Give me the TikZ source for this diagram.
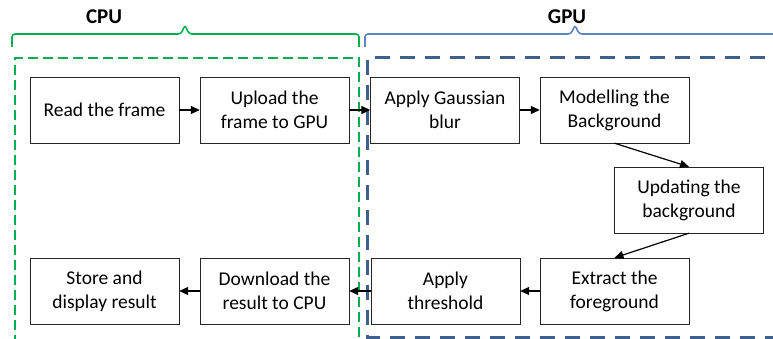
\documentclass[tikz,border=0pt]{standalone}
\usepackage{fontspec}
\setmainfont{Carlito}
\usetikzlibrary{arrows.meta}
\definecolor{cpugreen}{HTML}{00B050}
\definecolor{gpublue}{HTML}{5B86C0}
\definecolor{gpudark}{HTML}{3F5F8C}

\tikzset{
  stepbox/.style={draw=black!85, thin, fill=white, minimum width=149pt, minimum height=66pt,
    align=center, inner sep=2pt, font=\fontsize{19.5}{24}\selectfont},
  flow/.style={-{Triangle[length=9pt,width=8pt]}, line width=1.2pt},
  side/.style={font=\bfseries\fontsize{21}{24}\selectfont}
}

\begin{document}
\begin{tikzpicture}[x=1pt,y=-1pt]
          \useasboundingbox (0,0) rectangle (773,339);
          % braces over the two sides
          \draw[cpugreen, line width=1.6pt, rounded corners=3pt]
            (12,47) -- (12,34) -- (181,34) -- (185,25) -- (189,34) -- (359,34) -- (359,47);
          \draw[gpublue, line width=1.6pt, rounded corners=3pt]
            (365,47) -- (365,34) -- (571,34) -- (575,25) -- (579,34) -- (775,34);
          \node[side] (cpu) at (104,17) {CPU};
          \node[side] (gpu) at (567,17) {GPU};
          % dashed regions
          \draw[cpugreen, line width=2.4pt, dash pattern=on 10pt off 5pt]
            (15,345) -- (15,58) -- (359,58) -- (359,345);
          \draw[gpudark, line width=3pt, dash pattern=on 15pt off 10pt]
            (780,337) -- (367,337) -- (367,58) -- (780,58);
          % processing steps
          \node[stepbox] (read)    at (104.5,110)  {Read the frame};
          \node[stepbox] (upload)  at (274.5,110)  {Upload the\\frame to GPU};
          \node[stepbox] (gauss)   at (445,110)    {Apply Gaussian\\blur};
          \node[stepbox] (model)   at (614.5,110)  {Modelling the\\Background};
          \node[stepbox] (update)  at (689,200)    {Updating the\\background};
          \node[stepbox] (extract) at (614.5,291)  {Extract the\\foreground};
          \node[stepbox] (thresh)  at (445.5,291)  {Apply\\threshold};
          \node[stepbox] (down)    at (274.5,291)  {Download the\\result to CPU};
          \node[stepbox] (store)   at (104.5,291)  {Store and\\display result};
          % connectors
          \draw[flow] (read) -- (upload);
          \draw[flow] (upload) -- (gauss);
          \draw[flow] (gauss) -- (model);
          \draw[flow] (model.south) -- (update.north);
          \draw[flow] (update.south) -- (extract.north);
          \draw[flow] (extract) -- (thresh);
          \draw[flow] (thresh) -- (down);
          \draw[flow] (down) -- (store);
        \end{tikzpicture}
\end{document}
